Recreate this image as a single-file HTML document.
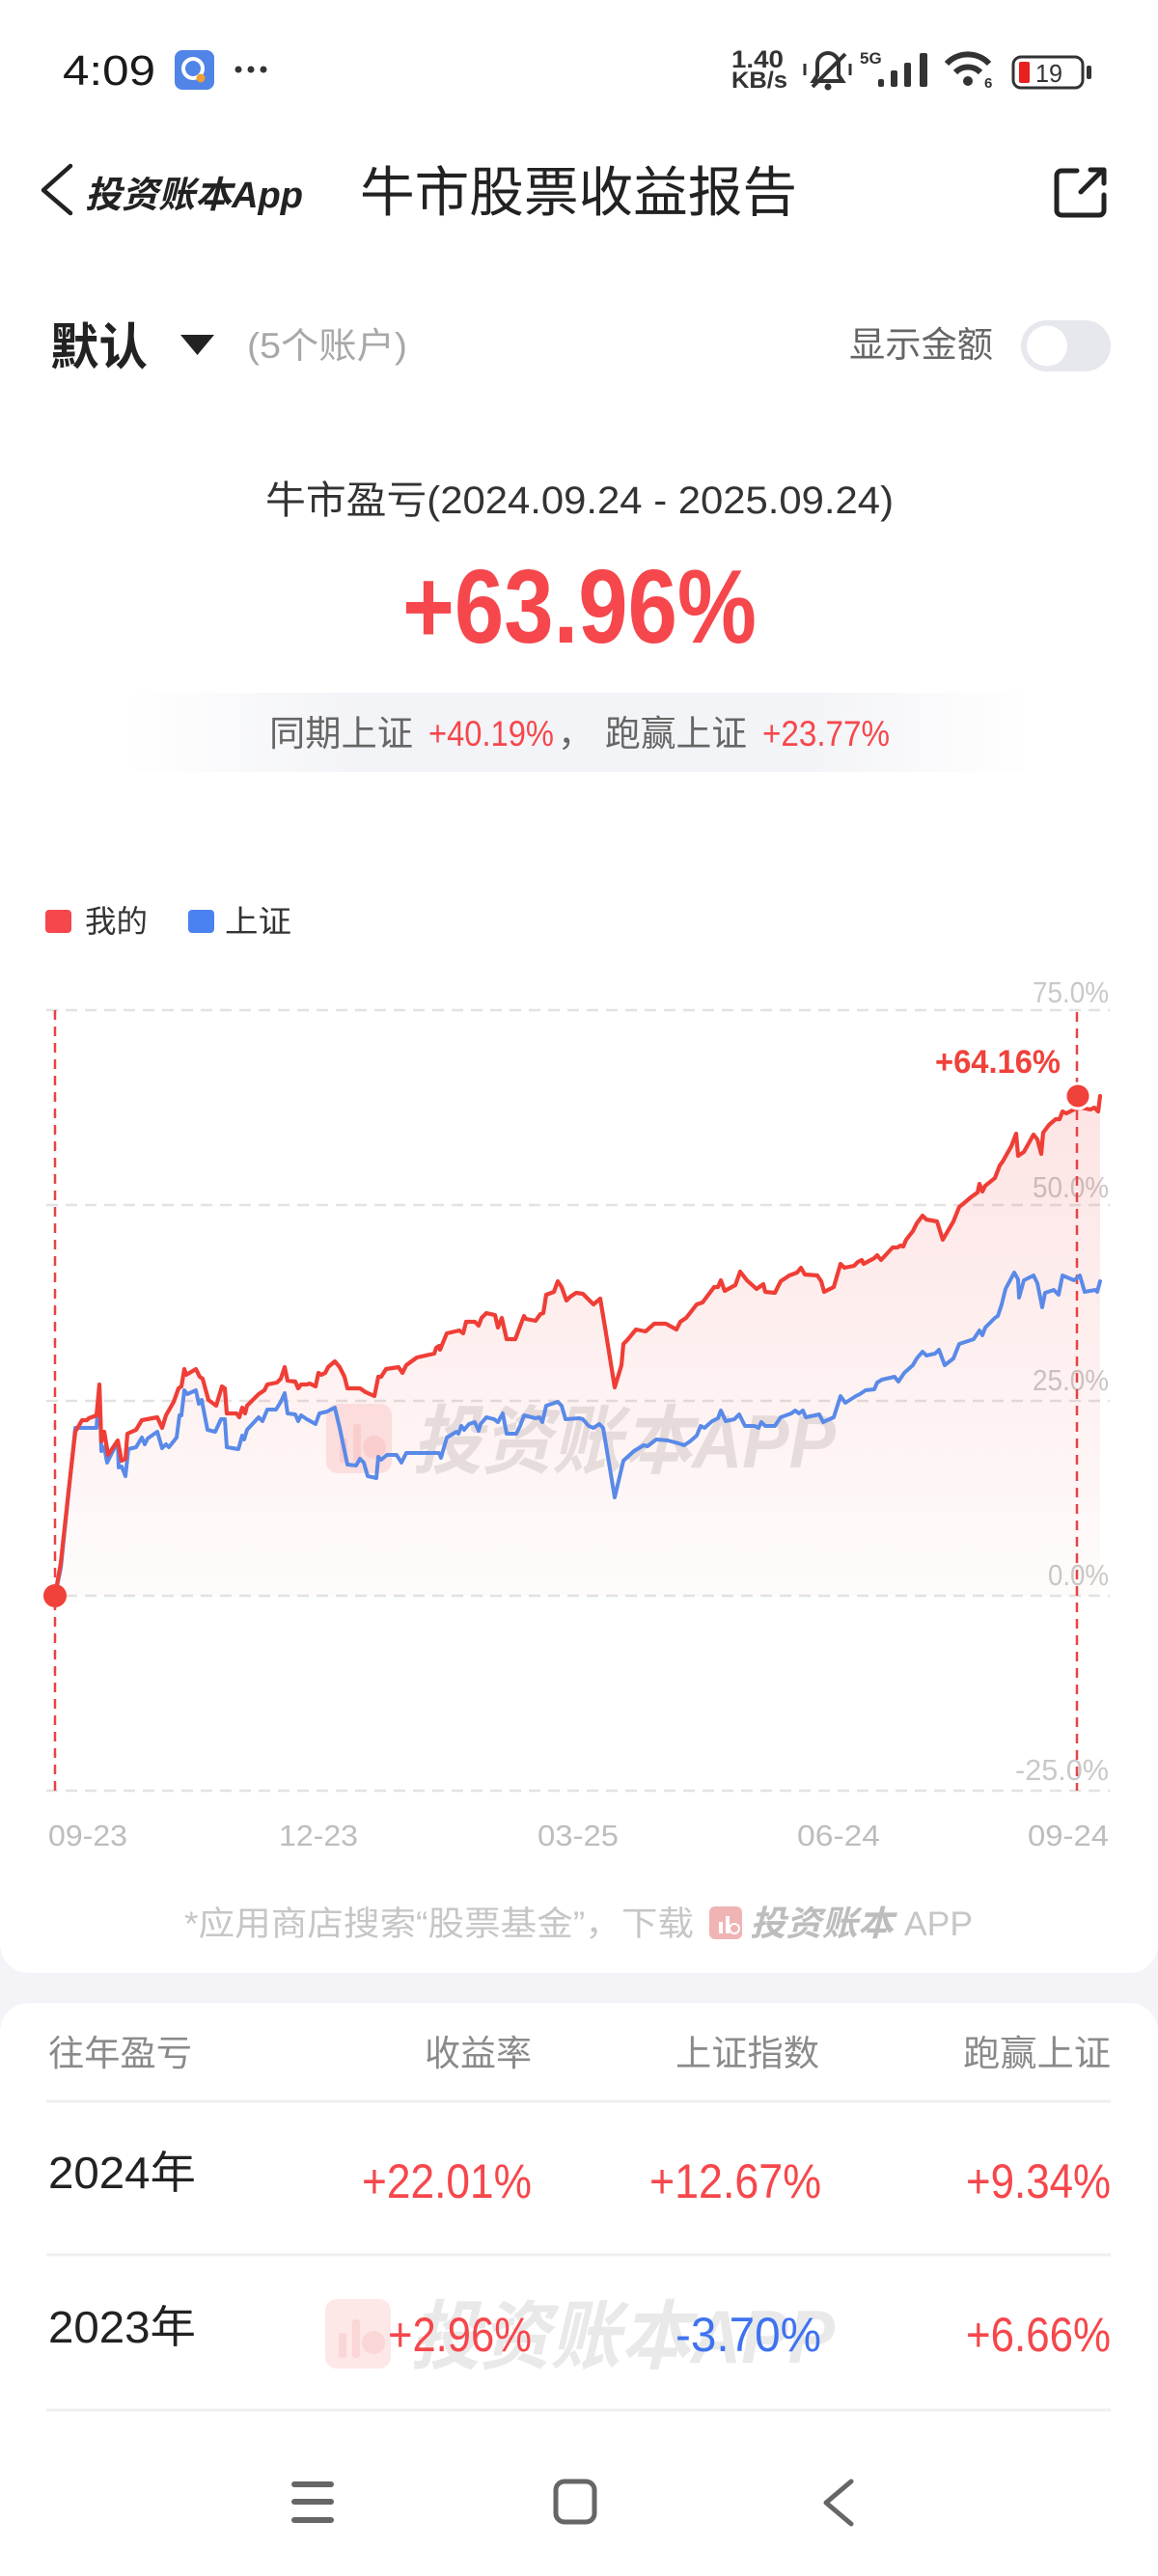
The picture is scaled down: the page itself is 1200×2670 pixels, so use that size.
<!DOCTYPE html>
<html><head><meta charset="utf-8"><style>
html,body{margin:0;padding:0;background:#fff;}
svg{display:block;}
text{font-family:"Liberation Sans","Noto Sans CJK SC",sans-serif;}
</style></head><body>
<svg width="1200" height="2670" viewBox="0 0 1200 2670" xmlns="http://www.w3.org/2000/svg">
<defs>
<linearGradient id="band" x1="0" x2="1" y1="0" y2="0">
<stop offset="0" stop-color="#f3f4f7" stop-opacity="0"/>
<stop offset="0.25" stop-color="#f3f4f7" stop-opacity="1"/>
<stop offset="0.75" stop-color="#f3f4f7" stop-opacity="1"/>
<stop offset="1" stop-color="#f3f4f7" stop-opacity="0"/>
</linearGradient>
<linearGradient id="area" x1="0" x2="0" y1="1130" y2="1656" gradientUnits="userSpaceOnUse">
<stop offset="0" stop-color="#f04848" stop-opacity="0.15"/>
<stop offset="1" stop-color="#f04848" stop-opacity="0.02"/>
</linearGradient>
</defs>
<rect x="0" y="0" width="1200" height="2670" fill="#f4f4f8"/>
<rect x="0" y="-40" width="1200" height="2085" rx="30" fill="#fff"/>
<rect x="0" y="2076" width="1200" height="700" rx="30" fill="#fff"/>

<!-- status bar -->
<text x="65" y="88" font-size="44" fill="#1a1a1a" textLength="96" lengthAdjust="spacingAndGlyphs">4:09</text>
<rect x="181" y="52" width="41" height="41" rx="8" fill="#5084e6"/>
<circle cx="200" cy="71" r="10" fill="none" stroke="#fff" stroke-width="4"/>
<circle cx="208" cy="81" r="4.5" fill="#f0a030"/>
<circle cx="247" cy="72" r="3.5" fill="#333"/><circle cx="260" cy="72" r="3.5" fill="#333"/><circle cx="273" cy="72" r="3.5" fill="#333"/>
<text x="758" y="70" font-size="25" font-weight="bold" fill="#333" textLength="54" lengthAdjust="spacingAndGlyphs">1.40</text>
<text x="758" y="91" font-size="24" font-weight="bold" fill="#333" textLength="58" lengthAdjust="spacingAndGlyphs">KB/s</text>
<path d="M843,84 h30 l-4,-6 v-12 a11,11 0 0 0 -22,0 v12 z" fill="none" stroke="#333" stroke-width="4"/>
<circle cx="858" cy="90" r="3.5" fill="#333"/>
<line x1="842" y1="90" x2="876" y2="56" stroke="#333" stroke-width="4"/>
<line x1="834" y1="66" x2="834" y2="78" stroke="#333" stroke-width="3"/>
<line x1="881" y1="66" x2="881" y2="78" stroke="#333" stroke-width="3"/>
<text x="891" y="66" font-size="17" font-weight="bold" fill="#333">5G</text>
<rect x="910" y="82" width="6" height="8" rx="2" fill="#333"/>
<rect x="923" y="73" width="7" height="17" rx="2" fill="#333"/>
<rect x="937" y="65" width="7" height="25" rx="2" fill="#333"/>
<rect x="953" y="55" width="8" height="35" rx="2" fill="#333"/>
<circle cx="1003" cy="84" r="5" fill="#333"/>
<path d="M990,75 a18,18 0 0 1 26,0" fill="none" stroke="#333" stroke-width="6"/>
<path d="M981,66 a30,30 0 0 1 44,0" fill="none" stroke="#333" stroke-width="6"/>
<text x="1020" y="91" font-size="15" font-weight="bold" fill="#333">6</text>
<rect x="1050" y="59" width="72" height="32" rx="8" fill="none" stroke="#333" stroke-width="3"/>
<rect x="1056" y="64" width="11" height="22" rx="2" fill="#e82020"/>
<text x="1073" y="85" font-size="26" fill="#333" textLength="28" lengthAdjust="spacingAndGlyphs">19</text>
<rect x="1126" y="68" width="5" height="14" rx="2" fill="#333"/>

<!-- nav -->
<polyline points="73,172 45,197 73,221" fill="none" stroke="#222" stroke-width="4.5" stroke-linejoin="round" stroke-linecap="round"/>
<text x="88" y="215" font-size="38" font-weight="bold" font-style="italic" fill="#222" textLength="226" lengthAdjust="spacingAndGlyphs">投资账本App</text>
<text x="373" y="219" font-size="56" fill="#222" textLength="453" lengthAdjust="spacingAndGlyphs">牛市股票收益报告</text>
<path d="M1116,177 H1100 a5,5 0 0 0 -5,5 V218 a5,5 0 0 0 5,5 H1139 a5,5 0 0 0 5,-5 V202" fill="none" stroke="#222" stroke-width="5" stroke-linecap="round"/>
<path d="M1120,199 L1143,176 M1130,176 H1144 V190" fill="none" stroke="#222" stroke-width="5" stroke-linecap="round" stroke-linejoin="round"/>

<!-- account row -->
<text x="52" y="378" font-size="52" font-weight="bold" fill="#222" textLength="101" lengthAdjust="spacingAndGlyphs">默认</text>
<polygon points="187,347 222,347 204.5,368" fill="#222"/>
<text x="256" y="371" font-size="37" fill="#a8a8a8" textLength="166" lengthAdjust="spacingAndGlyphs">(5个账户)</text>
<text x="880" y="370" font-size="37" fill="#666" textLength="149" lengthAdjust="spacingAndGlyphs">显示金额</text>
<rect x="1058" y="332" width="93" height="53" rx="26.5" fill="#e6e8ed"/>
<circle cx="1085" cy="358.5" r="21" fill="#fff"/>

<!-- summary -->
<text x="275" y="532" font-size="40" fill="#333" textLength="651" lengthAdjust="spacingAndGlyphs">牛市盈亏(2024.09.24 - 2025.09.24)</text>
<text x="417" y="666" font-size="109" font-weight="bold" fill="#f5474c" textLength="367" lengthAdjust="spacingAndGlyphs">+63.96%</text>
<rect x="130" y="718" width="940" height="82" fill="url(#band)"/>
<text x="279" y="773" font-size="37" fill="#666" textLength="149" lengthAdjust="spacingAndGlyphs">同期上证</text>
<text x="444" y="773" font-size="37" fill="#f5474c" textLength="130" lengthAdjust="spacingAndGlyphs">+40.19%</text>
<text x="578" y="773" font-size="37" fill="#666">，</text>
<text x="627" y="773" font-size="37" fill="#666" textLength="147" lengthAdjust="spacingAndGlyphs">跑赢上证</text>
<text x="790" y="773" font-size="37" fill="#f5474c" textLength="132" lengthAdjust="spacingAndGlyphs">+23.77%</text>

<!-- legend -->
<rect x="47" y="943" width="27" height="24" rx="4" fill="#f5474c"/>
<text x="88" y="966" font-size="32" fill="#333" textLength="65" lengthAdjust="spacingAndGlyphs">我的</text>
<rect x="195" y="943" width="27" height="24" rx="4" fill="#4a82f0"/>
<text x="233" y="966" font-size="32" fill="#333" textLength="69" lengthAdjust="spacingAndGlyphs">上证</text>

<!-- grid -->
<g stroke="#e2e2e2" stroke-width="2.5" stroke-dasharray="12 8">
<line x1="48" y1="1047" x2="1150" y2="1047"/>
<line x1="48" y1="1249" x2="1150" y2="1249"/>
<line x1="48" y1="1452" x2="1150" y2="1452"/>
<line x1="48" y1="1654" x2="1150" y2="1654"/>
<line x1="48" y1="1856" x2="1150" y2="1856"/>
</g>
<g font-size="31" fill="#c9c9c9">
<text x="1070" y="1039" textLength="79" lengthAdjust="spacingAndGlyphs">75.0%</text>
<text x="1070" y="1241" textLength="79" lengthAdjust="spacingAndGlyphs">50.0%</text>
<text x="1070" y="1441" textLength="79" lengthAdjust="spacingAndGlyphs">25.0%</text>
<text x="1086" y="1643" textLength="63" lengthAdjust="spacingAndGlyphs">0.0%</text>
<text x="1052" y="1845" textLength="97" lengthAdjust="spacingAndGlyphs">-25.0%</text>
</g>

<!-- watermark chart -->
<rect x="338" y="1455" width="68" height="72" rx="12" fill="#f04848" fill-opacity="0.13"/>
<rect x="352" y="1490" width="8" height="26" rx="3" fill="#f04848" fill-opacity="0.1"/>
<rect x="366" y="1476" width="8" height="40" rx="3" fill="#f04848" fill-opacity="0.1"/>
<circle cx="388" cy="1500" r="12" fill="#f04848" fill-opacity="0.1"/>
<text x="427" y="1521" font-size="78" font-weight="bold" font-style="italic" fill="#a8a8a8" fill-opacity="0.3" textLength="439" lengthAdjust="spacingAndGlyphs">投资账本APP</text>

<!-- area -->
<polygon fill="url(#area)" points="57,1654 63,1620 71,1546 78,1484 85,1472 90,1472 92,1470 100,1467 103,1435 105,1494 108,1484 112,1508 122,1493 126,1514 130,1512 132,1486 141,1482 147,1472 163,1469 168,1480 172,1467 180,1453 185,1439 188,1437 191,1419 193,1425 203,1419 207,1427 210,1429 216,1451 224,1457 230,1437 233,1439 235,1465 245,1465 248,1469 251,1459 254,1465 256,1457 268,1445 274,1441 277,1435 287,1433 291,1429 295,1417 298,1431 306,1432 309,1439 312,1435 318,1435 321,1434 327,1437 330,1423 333,1425 337,1423 340,1417 347,1411 352,1417 357,1427 360,1439 373,1439 379,1443 388,1447 392,1427 395,1427 400,1419 413,1417 417,1423 421,1415 432,1407 450,1403 452,1397 455,1395 456,1399 463,1382 476,1379 480,1382 483,1370 492,1370 496,1374 499,1366 504,1361 513,1363 516,1376 520,1366 525,1388 534,1388 543,1364 545,1367 555,1369 560,1362 563,1361 566,1342 574,1339 578,1328 582,1334 587,1348 591,1344 597,1340 604,1341 615,1352 622,1346 627,1376 637,1438 644,1415 646,1393 650,1389 659,1378 669,1380 678,1372 690,1372 701,1378 705,1370 711,1366 722,1352 728,1350 740,1334 744,1334 747,1327 751,1338 762,1332 767,1318 774,1327 784,1336 791,1331 793,1339 803,1340 809,1328 818,1322 826,1319 830,1314 834,1321 847,1322 851,1328 854,1339 864,1334 871,1310 875,1314 885,1312 889,1308 893,1306 895,1310 906,1304 909,1301 913,1306 925,1293 930,1293 933,1291 936,1292 939,1285 946,1276 950,1268 956,1260 960,1264 971,1266 977,1285 988,1266 994,1251 999,1247 1006,1241 1013,1236 1015,1227 1018,1235 1021,1229 1031,1221 1036,1208 1039,1204 1048,1188 1053,1175 1055,1198 1061,1194 1071,1176 1075,1181 1079,1196 1081,1174 1087,1166 1094,1160 1098,1160 1101,1152 1105,1154 1113,1150 1120,1148 1130,1150 1134,1148 1138,1152 1140,1136 1140,1654"/>

<!-- vertical dashed -->
<g stroke="#e84343" stroke-width="2.5" stroke-dasharray="10 7">
<line x1="57" y1="1047" x2="57" y2="1856"/>
<line x1="1116" y1="1049" x2="1116" y2="1856"/>
</g>

<!-- blue -->
<polyline fill="none" stroke="#5a8ae8" stroke-width="4" stroke-linejoin="round" stroke-linecap="round" points="57,1654 63,1625 71,1548 78,1480 100,1480 103,1437 105,1504 108,1500 111,1516 117,1504 122,1494 123,1521 126,1520 130,1530 133,1502 141,1500 147,1490 150,1497 153,1491 163,1484 168,1501 172,1497 175,1500 183,1490 186,1467 188,1467 191,1441 194,1445 203,1441 206,1455 209,1451 215,1482 223,1484 229,1471 233,1471 235,1500 247,1502 251,1488 253,1492 256,1482 268,1469 272,1473 277,1461 286,1461 291,1453 295,1444 298,1465 306,1466 309,1473 312,1467 318,1471 327,1476 331,1465 339,1463 347,1459 352,1480 360,1518 369,1519 373,1512 377,1516 381,1530 390,1532 392,1510 395,1513 401,1508 411,1508 416,1516 421,1506 455,1506 457,1511 463,1490 473,1484 475,1486 478,1478 481,1482 486,1476 492,1474 496,1483 498,1476 504,1469 512,1471 516,1474 521,1465 525,1486 535,1486 539,1478 543,1467 555,1470 559,1469 562,1474 566,1457 578,1453 582,1457 586,1471 600,1470 604,1471 610,1478 615,1480 621,1476 625,1480 637,1552 646,1514 657,1504 667,1498 671,1499 680,1492 692,1493 703,1496 709,1498 715,1494 722,1488 726,1478 730,1480 738,1473 744,1470 747,1462 752,1473 761,1471 766,1466 772,1478 782,1478 786,1480 789,1474 793,1478 803,1478 809,1469 820,1465 824,1462 828,1465 832,1462 835,1469 849,1466 853,1474 864,1469 871,1447 876,1454 887,1447 891,1445 897,1441 906,1440 909,1433 914,1430 927,1427 931,1432 937,1423 946,1415 950,1408 956,1401 960,1405 969,1403 973,1399 979,1415 988,1408 994,1393 1000,1391 1009,1388 1015,1379 1018,1384 1021,1376 1031,1366 1034,1364 1038,1352 1042,1336 1051,1319 1055,1326 1056,1345 1061,1327 1071,1322 1075,1330 1080,1355 1083,1340 1092,1337 1097,1342 1101,1322 1113,1327 1119,1322 1124,1339 1135,1337 1137,1339 1140,1328"/>

<!-- red -->
<polyline fill="none" stroke="#ef3e36" stroke-width="4.2" stroke-linejoin="round" stroke-linecap="round" points="57,1654 63,1620 71,1546 78,1484 85,1472 90,1472 92,1470 100,1467 103,1435 105,1494 108,1484 112,1508 122,1493 126,1514 130,1512 132,1486 141,1482 147,1472 163,1469 168,1480 172,1467 180,1453 185,1439 188,1437 191,1419 193,1425 203,1419 207,1427 210,1429 216,1451 224,1457 230,1437 233,1439 235,1465 245,1465 248,1469 251,1459 254,1465 256,1457 268,1445 274,1441 277,1435 287,1433 291,1429 295,1417 298,1431 306,1432 309,1439 312,1435 318,1435 321,1434 327,1437 330,1423 333,1425 337,1423 340,1417 347,1411 352,1417 357,1427 360,1439 373,1439 379,1443 388,1447 392,1427 395,1427 400,1419 413,1417 417,1423 421,1415 432,1407 450,1403 452,1397 455,1395 456,1399 463,1382 476,1379 480,1382 483,1370 492,1370 496,1374 499,1366 504,1361 513,1363 516,1376 520,1366 525,1388 534,1388 543,1364 545,1367 555,1369 560,1362 563,1361 566,1342 574,1339 578,1328 582,1334 587,1348 591,1344 597,1340 604,1341 615,1352 622,1346 627,1376 637,1438 644,1415 646,1393 650,1389 659,1378 669,1380 678,1372 690,1372 701,1378 705,1370 711,1366 722,1352 728,1350 740,1334 744,1334 747,1327 751,1338 762,1332 767,1318 774,1327 784,1336 791,1331 793,1339 803,1340 809,1328 818,1322 826,1319 830,1314 834,1321 847,1322 851,1328 854,1339 864,1334 871,1310 875,1314 885,1312 889,1308 893,1306 895,1310 906,1304 909,1301 913,1306 925,1293 930,1293 933,1291 936,1292 939,1285 946,1276 950,1268 956,1260 960,1264 971,1266 977,1285 988,1266 994,1251 999,1247 1006,1241 1013,1236 1015,1227 1018,1235 1021,1229 1031,1221 1036,1208 1039,1204 1048,1188 1053,1175 1055,1198 1061,1194 1071,1176 1075,1181 1079,1196 1081,1174 1087,1166 1094,1160 1098,1160 1101,1152 1105,1154 1113,1150 1120,1148 1130,1150 1134,1148 1138,1152 1140,1136"/>

<circle cx="57" cy="1654" r="12" fill="#f0413a"/>
<circle cx="1117" cy="1136" r="13" fill="#f0413a" stroke="#fff" stroke-width="3"/>
<text x="969" y="1112" font-size="34" font-weight="bold" fill="#f0413a" textLength="130" lengthAdjust="spacingAndGlyphs">+64.16%</text>

<!-- x labels -->
<g font-size="31" fill="#bdbdbd">
<text x="50" y="1913" textLength="82" lengthAdjust="spacingAndGlyphs">09-23</text>
<text x="289" y="1913" textLength="82" lengthAdjust="spacingAndGlyphs">12-23</text>
<text x="557" y="1913" textLength="84" lengthAdjust="spacingAndGlyphs">03-25</text>
<text x="826" y="1913" textLength="86" lengthAdjust="spacingAndGlyphs">06-24</text>
<text x="1065" y="1913" textLength="84" lengthAdjust="spacingAndGlyphs">09-24</text>
</g>

<!-- footnote -->
<text x="191" y="2006" font-size="35" fill="#c6c6c6" textLength="528" lengthAdjust="spacingAndGlyphs">*应用商店搜索“股票基金”，下载</text>
<rect x="735" y="1976" width="34" height="34" rx="6" fill="#f0b4b4"/>
<rect x="745" y="1992" width="4" height="12" fill="#fff"/><rect x="752" y="1986" width="4" height="18" fill="#fff"/><circle cx="761" cy="1999" r="5" fill="none" stroke="#fff" stroke-width="2"/>
<text x="777" y="2006" font-size="36" font-weight="bold" font-style="italic" fill="#bdbdbd" textLength="149" lengthAdjust="spacingAndGlyphs">投资账本</text>
<text x="937" y="2006" font-size="35" fill="#c6c6c6" textLength="71" lengthAdjust="spacingAndGlyphs">APP</text>

<!-- table -->
<g font-size="37" fill="#8a8a8a">
<text x="50" y="2141" textLength="149" lengthAdjust="spacingAndGlyphs">往年盈亏</text>
<text x="440" y="2141" textLength="111" lengthAdjust="spacingAndGlyphs">收益率</text>
<text x="700" y="2141" textLength="149" lengthAdjust="spacingAndGlyphs">上证指数</text>
<text x="998" y="2141" textLength="153" lengthAdjust="spacingAndGlyphs">跑赢上证</text>
</g>
<g stroke="#efefef" stroke-width="3">
<line x1="48" y1="2178" x2="1151" y2="2178"/>
<line x1="48" y1="2337" x2="1151" y2="2337"/>
<line x1="48" y1="2498" x2="1151" y2="2498"/>
</g>
<rect x="337" y="2383" width="68" height="72" rx="12" fill="#f04848" fill-opacity="0.13"/>
<rect x="351" y="2418" width="8" height="26" rx="3" fill="#f04848" fill-opacity="0.1"/>
<rect x="365" y="2404" width="8" height="40" rx="3" fill="#f04848" fill-opacity="0.1"/>
<circle cx="387" cy="2428" r="12" fill="#f04848" fill-opacity="0.1"/>
<text x="425" y="2449" font-size="78" font-weight="bold" font-style="italic" fill="#a8a8a8" fill-opacity="0.25" textLength="440" lengthAdjust="spacingAndGlyphs">投资账本APP</text>

<text x="50" y="2268" font-size="46" fill="#222" textLength="153" lengthAdjust="spacingAndGlyphs">2024年</text>
<text x="375" y="2278" font-size="50" fill="#f5474c" textLength="176" lengthAdjust="spacingAndGlyphs">+22.01%</text>
<text x="673" y="2278" font-size="50" fill="#f5474c" textLength="178" lengthAdjust="spacingAndGlyphs">+12.67%</text>
<text x="1001" y="2278" font-size="50" fill="#f5474c" textLength="150" lengthAdjust="spacingAndGlyphs">+9.34%</text>

<text x="50" y="2428" font-size="46" fill="#222" textLength="153" lengthAdjust="spacingAndGlyphs">2023年</text>
<text x="402" y="2437" font-size="50" fill="#f5474c" textLength="149" lengthAdjust="spacingAndGlyphs">+2.96%</text>
<text x="700" y="2437" font-size="50" fill="#3f72f0" textLength="151" lengthAdjust="spacingAndGlyphs">-3.70%</text>
<text x="1001" y="2437" font-size="50" fill="#f5474c" textLength="150" lengthAdjust="spacingAndGlyphs">+6.66%</text>

<!-- nav bar -->
<g stroke="#666" stroke-width="6" stroke-linecap="round">
<line x1="305" y1="2575" x2="343" y2="2575"/>
<line x1="305" y1="2593" x2="343" y2="2593"/>
<line x1="305" y1="2612" x2="343" y2="2612"/>
</g>
<rect x="576" y="2572" width="40" height="42" rx="9" fill="none" stroke="#666" stroke-width="5"/>
<polyline points="882,2572 856,2594 882,2616" fill="none" stroke="#666" stroke-width="5" stroke-linecap="round" stroke-linejoin="round"/>
</svg>
</body></html>
